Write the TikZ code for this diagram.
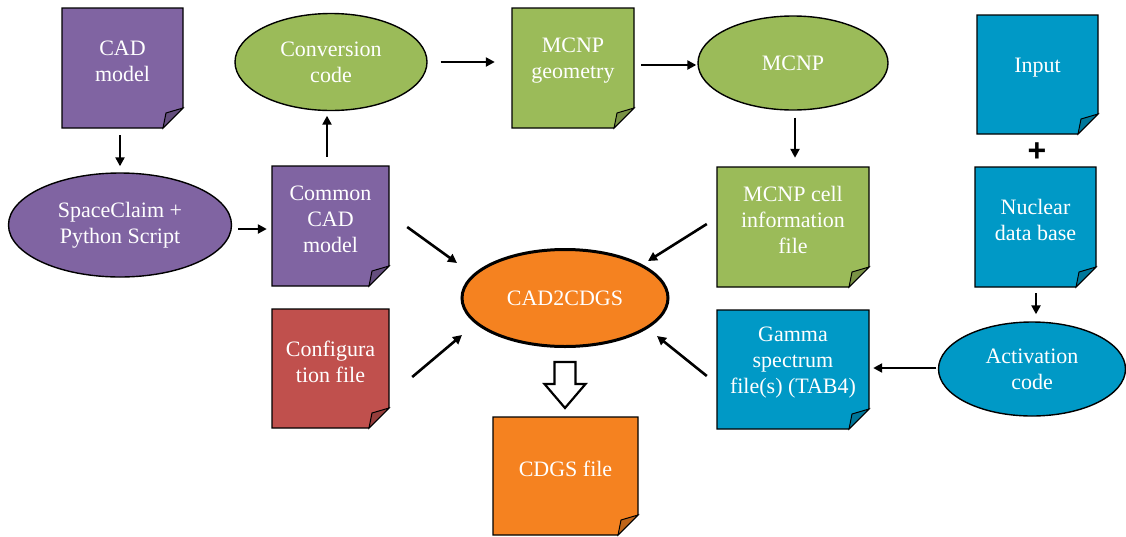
\documentclass[tikz,border=0pt]{standalone}
\usepackage{fontspec}
\setmainfont{Liberation Serif}
\newfontfamily\plusfont{Liberation Sans}
\usetikzlibrary{arrows.meta,shapes.geometric}
\definecolor{cpurple}{HTML}{8064A2}
\definecolor{cgreen}{HTML}{9BBB59}
\definecolor{cred}{HTML}{C0504D}
\definecolor{cblue}{HTML}{0099C6}
\definecolor{corange}{HTML}{F58220}
\tikzset{
  docline/.style={draw=black, line width=1.3pt, line join=miter},
  txt/.style={text=white, font=\fontsize{22}{26}\selectfont, align=center},
  docnode/.style={rectangle, inner sep=0pt, draw=none},
  ell/.style={ellipse, draw=black, line width=1.4pt, txt, inner sep=0pt},
  arr/.style={line width=2.6pt, -{Triangle[length=9pt,width=9pt]}},
  hollow/.style={draw=black, line width=2.2pt, fill=white, line join=miter},
}
% name, x1, y1, x2, y2, colour, text
\newcommand{\Doc}[7]{%
  \draw[docline, fill=#6] (#2,#3) -- (#4,#3) -- (#4,#5-20) -- (#4-20,#5) -- (#2,#5) -- cycle;
  \draw[docline, fill=#6!78!black, line width=1pt] (#4,#5-20) -- (#4-17,#5-15) -- (#4-20,#5) -- cycle;
  \node[docnode, minimum width={(#4-#2)*1pt}, minimum height={(#5-#3)*1pt}] (#1) at ({(#2+#4)/2},{(#3+#5)/2}) {};
  \node[txt] (#1t) at ([yshift=7pt]#1.center) {#7};
}
\begin{document}
\begin{tikzpicture}[x=1pt,y=-1pt]
\useasboundingbox (0,0) rectangle (1126,536);

% documents
\Doc{cad}{62}{8}{183}{128}{cpurple}{CAD\\model}
\Doc{cc}{272}{166}{389}{286}{cpurple}{Common\\CAD\\model}
\Doc{geo}{512}{8}{634}{128}{cgreen}{MCNP\\geometry}
\Doc{cell}{717}{167}{869}{287}{cgreen}{MCNP cell\\information\\file}
\Doc{input}{977}{15}{1098}{134}{cblue}{Input}
\Doc{nuc}{975}{167}{1096}{287}{cblue}{Nuclear\\data base}
\Doc{gamma}{717}{310}{869}{429}{cblue}{Gamma\\spectrum\\file(s) (TAB4)}
\Doc{cfg}{272}{309}{389}{428}{cred}{Configura\\tion file}
\Doc{cdgs}{493}{417}{638}{535}{corange}{CDGS file}

% ellipses
\node[ell, fill=cpurple, minimum width=223pt, minimum height=104pt] (sc) at (120,225) {SpaceClaim +\\Python Script};
\node[ell, fill=cgreen, minimum width=192pt, minimum height=97pt] (conv) at (331,62) {Conversion\\code};
\node[ell, fill=cgreen, minimum width=190pt, minimum height=94pt] (mcnp) at (793,63) {MCNP};
\node[ell, fill=cblue, minimum width=187pt, minimum height=94pt] (act) at (1032,369) {Activation\\code};
\node[ell, fill=corange, line width=3pt, minimum width=206pt, minimum height=97pt] (core) at (565,298) {CAD2CDGS};

% plus sign
\node[font=\plusfont\fontsize{32}{32}\selectfont\bfseries, inner sep=0pt] (plus) at (1037,152) {+};

% connectors
\draw[arr] ([shift={(-2.5,7)}]cad.south) -- ([shift={(0,-6)}]sc.north);
\draw[arr] ([shift={(6,4)}]sc.east) -- ([shift={(-5,3)}]cc.west);
\draw[arr] ([shift={(-3.5,-9)}]cc.north) -- ([shift={(-4,4.5)}]conv.south);
\draw[arr] ([shift={(13,0)}]conv.east) -- ([shift={(-17,-6)}]geo.west);
\draw[arr] ([shift={(7,-3)}]geo.east) -- ([shift={(-1,2)}]mcnp.west);
\draw[arr] ([shift={(2,7)}]mcnp.south) -- ([shift={(2,-9)}]cell.north);
\draw[arr] ([shift={(0.5,6)}]nuc.south) -- ([shift={(4,-7)}]act.north);
\draw[arr] ([shift={(-1.5,-1)}]act.west) -- ([shift={(4,-1.5)}]gamma.east);
\draw[arr] ([shift={(18,1)}]cc.east) -- ([shift={(-108,-35)}]core.center);
\draw[arr] ([shift={(-10,-3)}]cell.west) -- ([shift={(83,-37)}]core.center);
\draw[arr] ([shift={(23,8.5)}]cfg.east) -- ([shift={(-103,37)}]core.center);
\draw[arr] ([shift={(-10,6.5)}]gamma.west) -- ([shift={(92,38)}]core.center);

% hollow block arrow to CDGS file
\draw[hollow] ([shift={(-10.5,14)}]core.south) -- ++(21,0) -- ++(0,22) -- ++(10,0) -- ++(-20.5,24) -- ++(-20.5,-24) -- ++(10,0) -- cycle;

\end{tikzpicture}
\end{document}
